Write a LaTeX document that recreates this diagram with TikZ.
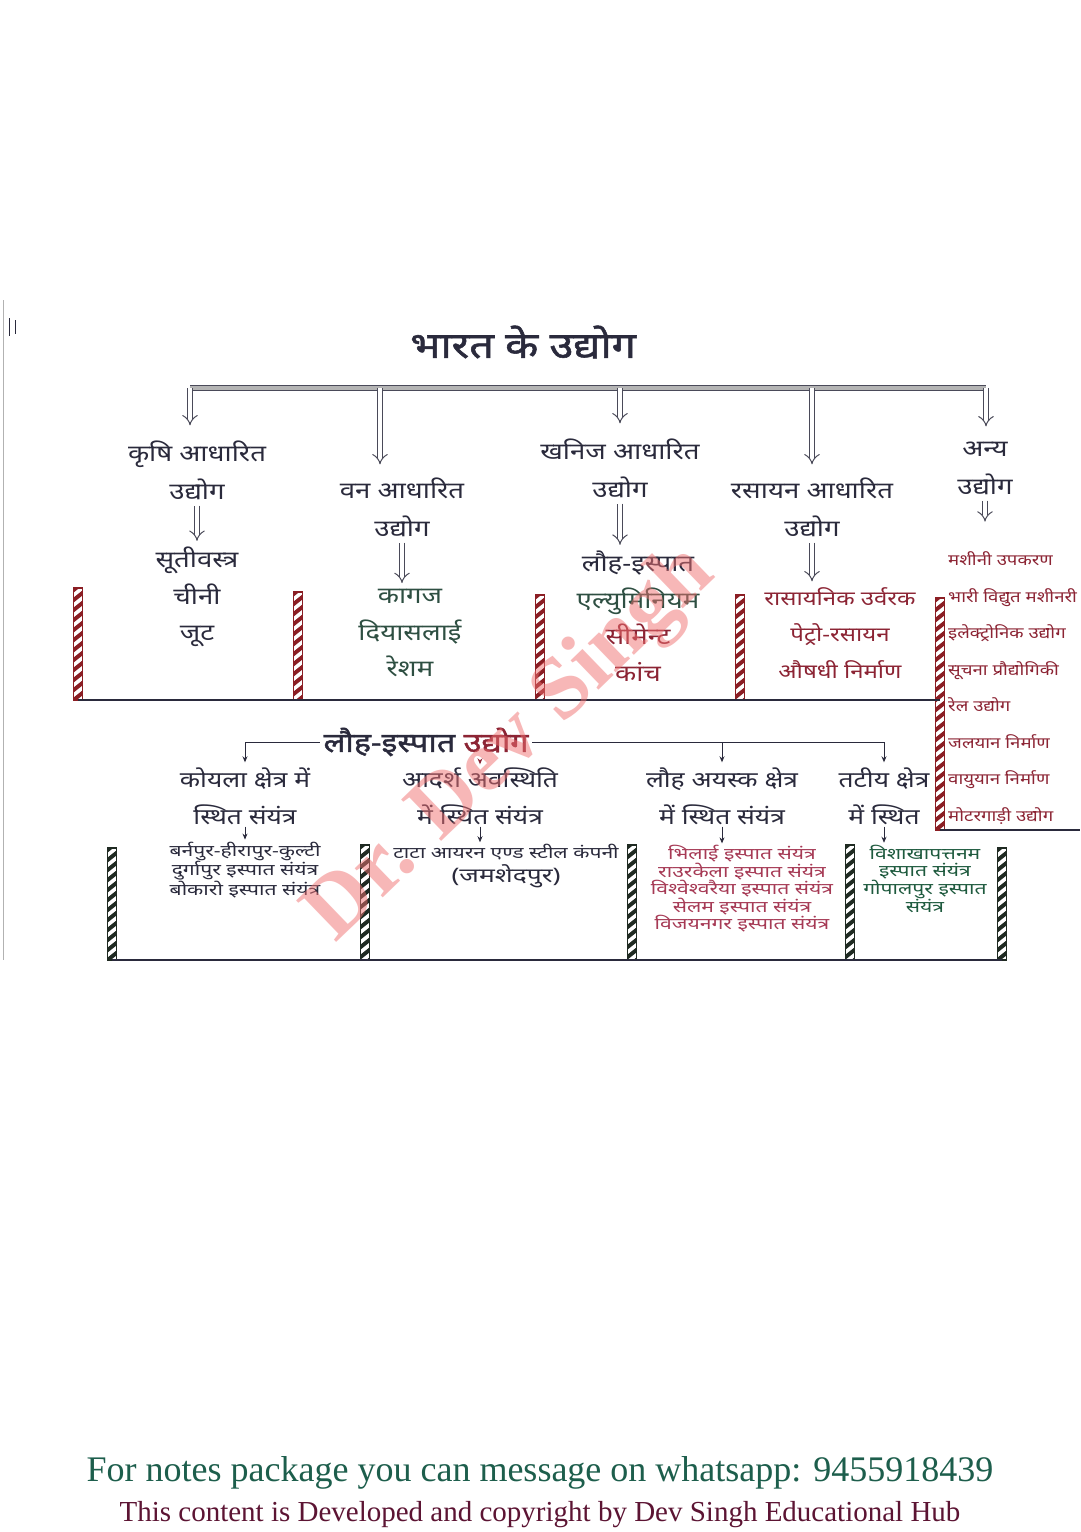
\documentclass[tikz,border=0pt]{standalone}
\usepackage{fontspec}
\usetikzlibrary{arrows.meta,positioning}
\newfontfamily\hindi[Script=Devanagari, FakeStretch=1.2]{Noto Sans}
\newfontfamily\hindibold[Script=Devanagari, FakeStretch=1.2, FakeBold=1.5]{Noto Sans}
\newfontfamily\hindiwide[Script=Devanagari, FakeStretch=1.32]{Noto Sans}
\newfontfamily\footfont{Liberation Serif}
\newfontfamily\markfont{Liberation Serif}
\definecolor{inkdark}{HTML}{2A2A3C}
\definecolor{inkgreen}{HTML}{2E4F42}
\definecolor{inkmaroon}{HTML}{8C2434}
\definecolor{inkpink}{HTML}{A63A55}
\definecolor{inkleaf}{HTML}{1E5A3E}
\definecolor{polered}{HTML}{8B1E24}
\definecolor{poledark}{HTML}{1F2A22}
\definecolor{footgreen}{HTML}{1D5E4C}
\definecolor{footmaroon}{HTML}{5C1433}
\definecolor{markred}{HTML}{F07070}
\definecolor{barfill}{HTML}{B4B4B4}
\tikzset{
  title/.style={font=\hindibold\fontsize{36}{44}\selectfont, text=inkdark},
  head/.style={font=\hindi\fontsize{23}{38}\selectfont, align=center, text=inkdark, inner sep=1pt},
  item/.style={font=\hindi\fontsize{23}{36.5}\selectfont, align=center, inner sep=1pt},
  subhead/.style={font=\hindi\fontsize{22}{37}\selectfont, align=center, text=inkdark, inner sep=1pt},
  small/.style={font=\hindiwide\fontsize{16}{17.5}\selectfont, align=center, inner sep=1pt},
  hollow/.style={double=white, double distance=4.5pt, line width=1pt, draw=inkdark!85, -{Implies}},
  thinarrow/.style={-{Stealth[length=6pt,width=5pt]}, line width=0.9pt, draw=inkdark},
  frame/.style={line width=1.6pt, draw=inkdark},
  foot/.style={font=\footfont\fontsize{36}{40}\selectfont, inner sep=0pt}
}
\begin{document}
\begin{tikzpicture}[x=1pt, y=-1pt]
  \useasboundingbox[fill=white] (0,0) rectangle (1080,1532);

  % scan marks
  \draw[gray!60, line width=0.8pt] (3,300) -- (3,960);
  \draw[inkdark, line width=1pt] (9,318) -- (9,336) (15,320) -- (15,334);

  % top level
  \node[title] (india) at (523,342) {भारत के उद्योग};
  \coordinate (bar-l) at (190,388);
  \coordinate (bar-r) at (986,388);
  \draw[line width=1pt, draw=inkdark!85, double=barfill, double distance=4pt] (bar-l) -- (bar-r);

  \node[head] (agri) at (197,470) {कृषि आधारित\\उद्योग};
  \node[head] (forest) at (402,507) {वन आधारित\\उद्योग};
  \node[head] (mineral) at (620,468) {खनिज आधारित\\उद्योग};
  \node[head] (chem) at (812,507) {रसायन आधारित\\उद्योग};
  \node[head] (other) at (985,468) {अन्य\\उद्योग};

  \node[item, text=inkdark] (agri-list) at (197,597) {सूतीवस्त्र\\चीनी\\जूट};
  \node[item, text=inkgreen] (forest-list) at (410,633) {कागज\\दियासलाई\\रेशम};
  \node[item, text=inkdark] (mineral-list) at (638,616)
    {लौह-इस्पात\\{\color{inkgreen}एल्युमिनियम}\\{\color{inkmaroon}सीमेन्ट}\\{\color{inkmaroon}कांच}};
  \node[item, text=inkmaroon, font=\hindi\fontsize{20}{36.5}\selectfont] (chem-list) at (840,633) {रासायनिक उर्वरक\\पेट्रो-रसायन\\औषधी निर्माण};
  \node[item, text=inkmaroon, align=left, anchor=west, font=\hindi\fontsize{15.5}{36.5}\selectfont] (other-list) at (947,688)
    {मशीनी उपकरण\\भारी विद्युत मशीनरी\\इलेक्ट्रोनिक उद्योग\\सूचना प्रौद्योगिकी\\रेल उद्योग\\जलयान निर्माण\\वायुयान निर्माण\\मोटरगाड़ी उद्योग};

  \draw[hollow, shorten >=14pt] (bar-l) -- (agri.north -| bar-l);
  \draw[hollow, shorten >=12pt] (bar-l -| 380,0) -- (forest.north -| 380,0);
  \draw[hollow, shorten >=14pt] (bar-l -| mineral) -- (mineral.north);
  \draw[hollow, shorten >=12pt] (bar-l -| chem) -- (chem.north);
  \draw[hollow, shorten >=14pt] (bar-r) -- (other.north -| bar-r);

  \foreach \cat in {agri,forest,mineral,chem}
    \draw[hollow, shorten <=5pt, shorten >=5pt] (\cat.south) -- (\cat.south |- \cat-list.north);
  \draw[hollow, shorten <=5pt, shorten >=8pt] (other.south) -- ++(0,34);

  % striped poles
  \foreach \px/\ptop/\pbot/\pc in {78/588/700/polered, 298/592/700/polered, 540/595/700/polered,
      740/595/700/polered, 940/598/830/polered, 112/848/960/poledark, 365/845/960/poledark,
      632/845/960/poledark, 850/845/960/poledark, 1002/848/960/poledark}{
    \begin{scope}
      \clip (\px-4.5,\ptop) rectangle (\px+4.5,\pbot);
      \foreach \s in {0,10,...,240}
        \fill[\pc] (\px-5,\ptop+\s) -- (\px+5,\ptop+\s-8) -- (\px+5,\ptop+\s-3) -- (\px-5,\ptop+\s+5) -- cycle;
    \end{scope}
    \draw[\pc, line width=1.3pt] (\px-4.5,\ptop) rectangle (\px+4.5,\pbot);
  }
  \draw[frame] (78,700) -- (940,700);
  \draw[frame] (940,830) -- (1080,830);
  \draw[frame] (112,960) -- (1002,960);

  % iron and steel
  \node[title, font=\hindibold\fontsize{27}{30}\selectfont] (steel) at (426,742) {लौह-इस्पात {\color{inkmaroon}उद्योग}};
  \node[subhead] (coal) at (245,796) {कोयला क्षेत्र में\\स्थित संयंत्र};
  \node[subhead] (ideal) at (480,796) {आदर्श अवस्थिति\\में स्थित संयंत्र};
  \node[subhead] (ore) at (722,796) {लौह अयस्क क्षेत्र\\में स्थित संयंत्र};
  \node[subhead] (coast) at (884,796) {तटीय क्षेत्र\\में स्थित};

  \node[small, text=inkdark] (coal-list) at (245,870) {बर्नपुर-हीरापुर-कुल्टी\\दुर्गापुर इस्पात संयंत्र\\बोकारो इस्पात संयंत्र};
  \node[small, text=inkdark] (ideal-list) at (506,866) {टाटा आयरन एण्ड स्टील कंपनी\\[3pt]{\fontsize{20}{22}\selectfont (जमशेदपुर)}};
  \node[small, text=inkpink] (ore-list) at (742,889)
    {भिलाई इस्पात संयंत्र\\राउरकेला इस्पात संयंत्र\\विश्वेश्वरैया इस्पात संयंत्र\\सेलम इस्पात संयंत्र\\विजयनगर इस्पात संयंत्र};
  \node[small, text=inkleaf] (coast-list) at (925,879) {विशाखापत्तनम\\इस्पात संयंत्र\\गोपालपुर इस्पात\\संयंत्र};

  \draw[thinarrow, shorten >=4pt] (steel.west) -| (coal.north);
  \draw[thinarrow, shorten >=4pt] (steel.east) -| (coast.north);
  \draw[thinarrow, shorten >=4pt] (ore.north |- steel.east) -- (ore.north);
  \draw[thinarrow, draw=inkmaroon, shorten >=2pt] (ideal.north |- steel.south) -- (ideal.north);
  \foreach \sub in {coal,ideal,ore,coast}
    \draw[thinarrow, line width=0.7pt, shorten <=1pt, shorten >=1pt] (\sub.south) -- (\sub.south |- \sub-list.north);

  % watermark
  \node[font=\markfont\fontsize{88}{92}\selectfont\bfseries, text=markred, opacity=0.5, rotate=44] (mark) at (512,745) {Dr. Dev Singh};

  % footer
  \node[foot, text=footgreen] (notes) at (540,1473) {For notes package you can message on whatsapp: 9455918439};
  \node[foot, text=footmaroon, font=\footfont\fontsize{29}{34}\selectfont, below=12pt of notes] (rights) {This content is Developed and copyright by Dev Singh Educational Hub};
\end{tikzpicture}
\end{document}
